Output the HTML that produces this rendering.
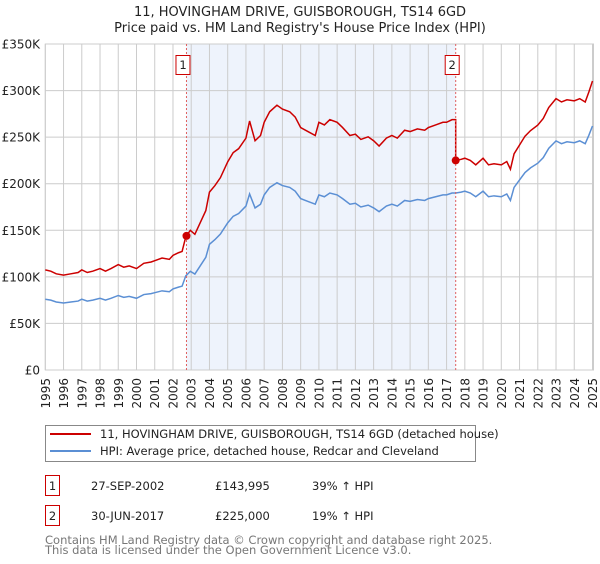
<!DOCTYPE html>
<html><head><meta charset="utf-8"><style>
body{margin:0;background:#fff;font-family:"DejaVu Sans","Liberation Sans",sans-serif;}
svg text{font-family:"DejaVu Sans","Liberation Sans",sans-serif;}
</style></head><body>
<svg id="c" width="600" height="560" viewBox="0 0 600 560">
<text x="300" y="16" text-anchor="middle" font-size="13" fill="#222">11, HOVINGHAM DRIVE, GUISBOROUGH, TS14 6GD</text>
<text x="300" y="32" text-anchor="middle" font-size="13" fill="#222">Price paid vs. HM Land Registry's House Price Index (HPI)</text>
<g id="plot"></g>
<rect x="45.5" y="425.5" width="430" height="36" fill="#fff" stroke="#888"/>
<line x1="50" y1="434" x2="91" y2="434" stroke="#cc0000" stroke-width="2"/>
<text x="100" y="438" font-size="11.5" fill="#222">11, HOVINGHAM DRIVE, GUISBOROUGH, TS14 6GD (detached house)</text>
<line x1="50" y1="451" x2="91" y2="451" stroke="#5b8fd4" stroke-width="2"/>
<text x="100" y="455" font-size="11.5" fill="#222">HPI: Average price, detached house, Redcar and Cleveland</text>
<g>
<rect x="45.5" y="475.5" width="14" height="20" fill="#fff" stroke="#cc0000"/>
<text x="52.5" y="490" font-size="11.5" text-anchor="middle" fill="#222">1</text>
<text x="91" y="490" font-size="11.5" fill="#222">27-SEP-2002</text>
<text x="215" y="490" font-size="11.5" fill="#222">£143,995</text>
<text x="312" y="490" font-size="11.5" fill="#222">39% ↑ HPI</text>
</g>
<g>
<rect x="45.5" y="505.5" width="14" height="20" fill="#fff" stroke="#cc0000"/>
<text x="52.5" y="520" font-size="11.5" text-anchor="middle" fill="#222">2</text>
<text x="91" y="520" font-size="11.5" fill="#222">30-JUN-2017</text>
<text x="215" y="520" font-size="11.5" fill="#222">£225,000</text>
<text x="312" y="520" font-size="11.5" fill="#222">19% ↑ HPI</text>
</g>
<text x="45" y="544" font-size="11.5" fill="#777">Contains HM Land Registry data © Crown copyright and database right 2025.</text>
<text x="45" y="554" font-size="11.5" fill="#777">This data is licensed under the Open Government Licence v3.0.</text>
</svg>
<script>
const hpiYears = [1995,1995.3,1995.6,1996,1996.4,1996.8,1997,1997.3,1997.6,1998,1998.3,1998.6,1999,1999.3,1999.6,2000,2000.4,2000.8,2001,2001.4,2001.8,2002,2002.3,2002.5,2002.7,2002.95,2003.2,2003.5,2003.8,2004,2004.3,2004.6,2005,2005.3,2005.6,2006,2006.2,2006.5,2006.8,2007,2007.3,2007.7,2008,2008.4,2008.7,2009,2009.4,2009.8,2010,2010.3,2010.6,2011,2011.3,2011.7,2012,2012.3,2012.7,2013,2013.3,2013.7,2014,2014.3,2014.7,2015,2015.4,2015.8,2016,2016.4,2016.8,2017,2017.3,2017.5,2017.8,2018,2018.3,2018.6,2019,2019.3,2019.6,2020,2020.3,2020.5,2020.7,2021,2021.3,2021.6,2022,2022.3,2022.6,2023,2023.3,2023.6,2024,2024.3,2024.6,2024.8,2025];
const hpiValues = [76,75,73,72,73,74,76,74,75,77,75,77,80,78,79,77,81,82,83,85,84,87,89,90,101,106,103,112,121,135,140,146,158,165,168,176,189,174,178,188,196,201,198,196,192,184,181,178,188,186,190,188,184,178,179,175,177,174,170,176,178,176,182,181,183,182,184,186,188,188,190,190,191,192,190,186,192,186,187,186,189,182,196,204,212,217,222,228,238,246,243,245,244,246,243,252,262];
const saleYears = [2002.74,2017.5];
const salePrices = [143995,225000];
const yTicks = [0,50,100,150,200,250,300,350];
const yTickLabels = ["£0","£50K","£100K","£150K","£200K","£250K","£300K","£350K"];
const xTicks = [1995,1996,1997,1998,1999,2000,2001,2002,2003,2004,2005,2006,2007,2008,2009,2010,2011,2012,2013,2014,2015,2016,2017,2018,2019,2020,2021,2022,2023,2024,2025];

const NS="http://www.w3.org/2000/svg";
const g=document.getElementById('plot');
const X0=45.3,X1=592.5,Y0=370,Y1=44;
const sx=t=>X0+(t-1995)/30*(X1-X0);
const sy=v=>Y0-v/350*(Y0-Y1);
function mk(tag,at,parent){const e=document.createElementNS(NS,tag);for(const k in at)e.setAttribute(k,at[k]);(parent||g).appendChild(e);return e;}
function interp(t){for(let i=0;i<hpiYears.length-1;i++){if(t>=hpiYears[i]&&t<=hpiYears[i+1]){const f=(t-hpiYears[i])/(hpiYears[i+1]-hpiYears[i]);return hpiValues[i]+f*(hpiValues[i+1]-hpiValues[i]);}}return hpiValues[hpiValues.length-1];}

const shade=mk('rect',{x:sx(saleYears[0]),y:Y1,width:sx(saleYears[1])-sx(saleYears[0]),height:Y0-Y1,fill:'#eef3fc'});


xTicks.forEach(t=>{
  const l=mk('line',{x1:sx(t),x2:sx(t),y1:Y1,y2:Y0,stroke:'#ccc','stroke-width':1});
  
  
  const tx=mk('text',{transform:`translate(${sx(t)+4.5},378) rotate(-90)`,'text-anchor':'end','font-size':12,fill:'#222'});
  tx.textContent=t;
  
  
});
yTicks.forEach((v,i)=>{
  const l=mk('line',{x1:X0,x2:X1+1,y1:sy(v),y2:sy(v),stroke:'#ccc','stroke-width':1});
  
  
  const tx=mk('text',{x:40,y:sy(v)+4.5,'text-anchor':'end','font-size':12,fill:'#222'});
  tx.textContent=yTickLabels[i];
  
  
});
const fr=mk('rect',{x:X0,y:Y1,width:X1-X0+1,height:Y0-Y1,fill:'none',stroke:'#ccc'});



const hp=mk('polyline',{points:hpiYears.map((t,i)=>sx(t)+','+sy(hpiValues[i])).join(' '),fill:'none',stroke:'#5b8fd4','stroke-width':1.5});



const r1=salePrices[0]/1000/interp(saleYears[0]);
const r2=salePrices[1]/1000/interp(saleYears[1]);
let pts=[];
hpiYears.forEach((t,i)=>{
  if(t<saleYears[1]) pts.push(sx(t)+','+sy(hpiValues[i]*r1));
});
pts.push(sx(saleYears[1])+','+sy(interp(saleYears[1])*r1));
pts.push(sx(saleYears[1])+','+sy(salePrices[1]/1000));
hpiYears.forEach((t,i)=>{ if(t>saleYears[1]) pts.push(sx(t)+','+sy(hpiValues[i]*r2)); });
const pl=mk('polyline',{points:pts.join(' '),fill:'none',stroke:'#cc0000','stroke-width':1.5});



saleYears.forEach((t,i)=>{
  const vl=mk('line',{x1:sx(t),x2:sx(t),y1:Y1,y2:Y0,stroke:'#e06060','stroke-width':1,'stroke-dasharray':'2,2'});
  
  
  const b=mk('rect',{x:sx(t)-10.5,y:55.5,width:14,height:19,fill:'#fff',stroke:'#cc0000'});
  
  
  const tx=mk('text',{x:sx(t)-3.5,y:69,'text-anchor':'middle','font-size':11.5,fill:'#222'});
  tx.textContent=String(i+1);
  
  
  const c=mk('circle',{cx:sx(t),cy:sy(salePrices[i]/1000),r:4,fill:'#cc0000'});
  
  
});
</script>
</body></html>
